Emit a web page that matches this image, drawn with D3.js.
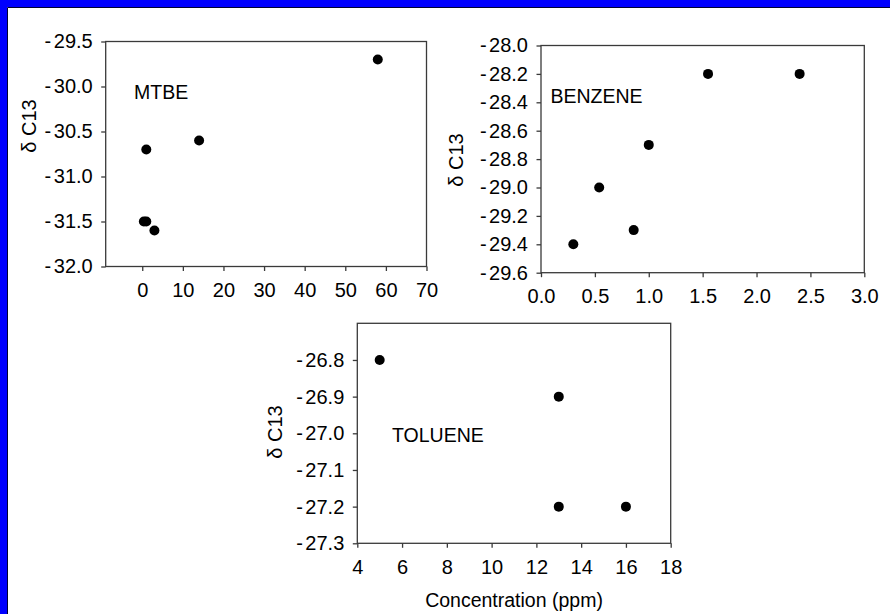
<!DOCTYPE html>
<html>
<head>
<meta charset="utf-8">
<script src="https://cdn.jsdelivr.net/npm/d3@7"></script>
<style>
  html, body { margin: 0; padding: 0; background: #0000ff; }
  svg { display: block; font-family: "Liberation Sans", Arial, sans-serif; }
</style>
</head>
<body>
<svg id="chart" width="890" height="614"></svg>
<script>
// δ13C versus concentration for three compounds
const mtbeConc   = [58, 1, 14, 0.4, 1.0, 3];
const mtbeDelta  = [-29.7, -30.7, -30.6, -31.5, -31.5, -31.6];
const mtbeXTicks = [0, 10, 20, 30, 40, 50, 60, 70];
const mtbeYTicks = [-29.5, -30.0, -30.5, -31.0, -31.5, -32.0];

const benzConc   = [0.3, 0.54, 0.86, 1.0, 1.55, 2.4];
const benzDelta  = [-29.4, -29.0, -29.3, -28.7, -28.2, -28.2];
const benzXTicks = [0.0, 0.5, 1.0, 1.5, 2.0, 2.5, 3.0];
const benzYTicks = [-28.0, -28.2, -28.4, -28.6, -28.8, -29.0, -29.2, -29.4, -29.6];

const tolConc    = [5, 13, 13, 16];
const tolDelta   = [-26.8, -26.9, -27.2, -27.2];
const tolXTicks  = [4, 6, 8, 10, 12, 14, 16, 18];
const tolYTicks  = [-26.8, -26.9, -27.0, -27.1, -27.2, -27.3];

const svg = d3.select("#chart");

// page background: blue band top and left, white canvas
svg.append("rect").attr("width", 890).attr("height", 614).attr("fill", "#0000ff");
svg.append("rect").attr("x", 7).attr("y", 7).attr("width", 883).attr("height", 607).attr("fill", "#ffffff");
svg.append("path").attr("d", "M7.5,614V7.5H890").attr("fill", "none").attr("stroke", "#000033").attr("stroke-width", 1);

const panels = [
  { name: "MTBE", x: mtbeConc, y: mtbeDelta, xTicks: mtbeXTicks, yTicks: mtbeYTicks,
    xDomain: [-9, 70], yDomain: [-32.0, -29.5], box: [105.7, 41.5, 426.5, 266.5],
    xDigits: 0, yDigits: 1, label: [134, 99], yTitle: [36, 126] },
  { name: "BENZENE", x: benzConc, y: benzDelta, xTicks: benzXTicks, yTicks: benzYTicks,
    xDomain: [0, 3], yDomain: [-29.6, -28.0], box: [541, 45.5, 864.3, 272.7],
    xDigits: 1, yDigits: 1, label: [550.5, 102.5], yTitle: [463, 160] },
  { name: "TOLUENE", x: tolConc, y: tolDelta, xTicks: tolXTicks, yTicks: tolYTicks,
    xDomain: [4, 18], yDomain: [-27.3, -26.7], box: [357.3, 323.3, 670.7, 543.3],
    xDigits: 0, yDigits: 1, label: [392, 441.5], yTitle: [282, 432] }
];

const axisColor = "#3a3a3a";

// tick label with a plain hyphen for negatives, set slightly apart from the digits
function writeTick(sel, digits) {
  sel.each(function(d) {
    const t = d3.select(this).text(null);
    const s = Math.abs(d).toFixed(digits);
    if (d < 0) {
      t.append("tspan").text("-");
      t.append("tspan").attr("dx", 2.5).text(s);
    } else {
      t.append("tspan").text(s);
    }
  });
}

panels.forEach(p => {
  const [x0, y0, x1, y1] = p.box;
  const xs = d3.scaleLinear().domain(p.xDomain).range([x0, x1]);
  const ys = d3.scaleLinear().domain(p.yDomain).range([y1, y0]);
  const g = svg.append("g");

  // frame
  g.append("rect")
    .attr("x", x0).attr("y", y0).attr("width", x1 - x0).attr("height", y1 - y0)
    .attr("fill", "none").attr("stroke", axisColor).attr("stroke-width", 1.3);

  const xAxis = g.append("g").attr("transform", `translate(0,${y1})`)
    .call(d3.axisBottom(xs).tickValues(p.xTicks).tickSize(4.5).tickPadding(12));
  const yAxis = g.append("g").attr("transform", `translate(${x0},0)`)
    .call(d3.axisLeft(ys).tickValues(p.yTicks).tickSize(4.5).tickPadding(8.5));

  writeTick(xAxis.selectAll(".tick text"), p.xDigits);
  writeTick(yAxis.selectAll(".tick text"), p.yDigits);

  [xAxis, yAxis].forEach(a => {
    a.select(".domain").remove();
    a.selectAll(".tick line").attr("stroke", axisColor).attr("stroke-width", 1.3);
    a.selectAll(".tick text").attr("fill", "#000").style("font-size", "20px")
      .style("font-family", "'Liberation Sans', Arial, sans-serif");
  });

  // data points
  g.selectAll("circle").data(p.x.map((v, i) => [v, p.y[i]])).enter()
    .append("circle")
    .attr("cx", d => xs(d[0])).attr("cy", d => ys(d[1])).attr("r", 5)
    .attr("fill", "#000");

  // compound label
  g.append("text").attr("x", p.label[0]).attr("y", p.label[1])
    .style("font-size", "19.5px").attr("fill", "#000").text(p.name);

  // y-axis title
  g.append("text")
    .attr("transform", `translate(${p.yTitle[0]},${p.yTitle[1]}) rotate(-90)`)
    .attr("text-anchor", "middle")
    .style("font-size", "20px").attr("fill", "#000").text("δ C13");
});

svg.append("text").attr("x", 514).attr("y", 607).attr("text-anchor", "middle")
  .style("font-size", "19.5px").attr("fill", "#000").text("Concentration (ppm)");
</script>
</body>
</html>
